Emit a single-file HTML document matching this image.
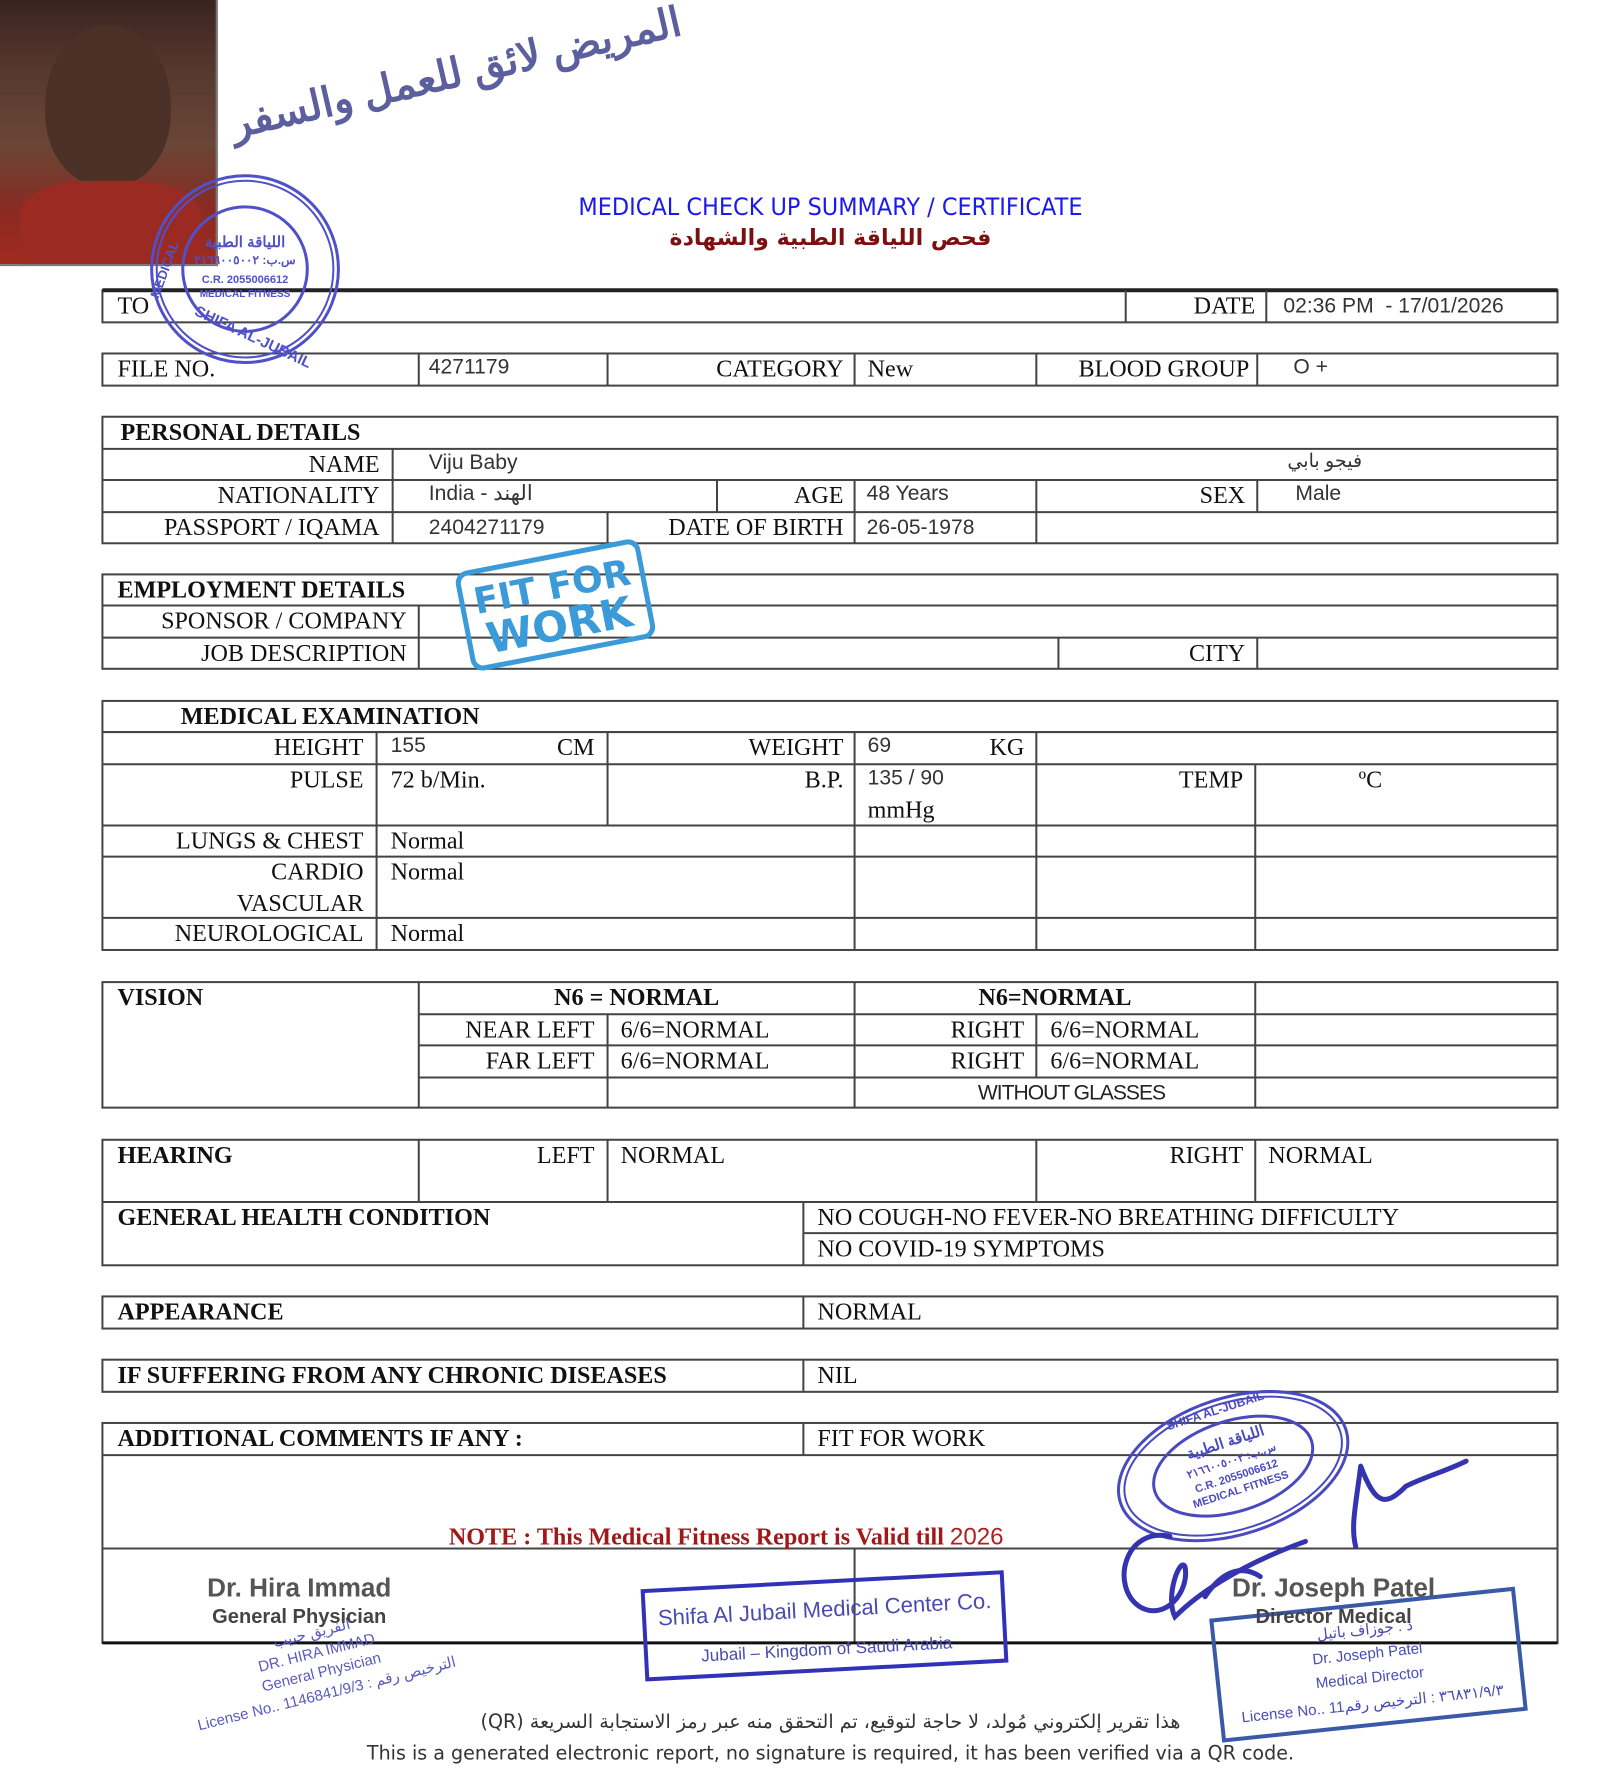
<!DOCTYPE html>
<html><head><meta charset="utf-8">
<style>
html,body{margin:0;padding:0;background:#fff}
#pg{position:relative;width:1621px;height:1772px;overflow:hidden;background:#fff}
#in{position:absolute;left:0;top:0;width:1621px;height:1772px;transform:scale(1.0042);transform-origin:0 0}
.t{position:absolute;font:24px "Liberation Serif",serif;color:#111;white-space:nowrap;line-height:32px;height:32px}
.b{font-weight:bold}
.s{font-family:"Liberation Sans","Noto Sans CJK SC",sans-serif;font-size:21px;color:#333}
.r{text-align:right}
svg{position:absolute;left:0;top:0}
</style></head><body><div id="pg"><div id="in">

<div style="position:absolute;left:0;top:0;width:215px;height:263px;border:2px solid #777;border-top:0;border-left:0;background:linear-gradient(180deg,#3a2420 0%,#5a3a30 30%,#6a4636 55%,#8a2a22 80%,#a02a20 100%)"></div>
<div style="position:absolute;left:45px;top:25px;width:125px;height:160px;border-radius:50% 50% 45% 45%;background:#4a3026"></div>
<div style="position:absolute;left:20px;top:180px;width:180px;height:83px;border-radius:40% 40% 0 0;background:#9a2a22"></div>

<div style="position:absolute;left:230px;top:100px;font:bold 41px 'Liberation Sans','Noto Sans CJK SC',sans-serif;color:#5c5f9e;transform:rotate(-13deg);transform-origin:left center;white-space:nowrap" dir="rtl">المريض لائق للعمل والسفر</div>

<div style="position:absolute;left:0;width:1654px;top:192px;text-align:center;font:24px 'DejaVu Sans',sans-serif;color:#1a1aee;transform:scaleX(0.93);transform-origin:827px 0">MEDICAL CHECK UP SUMMARY / CERTIFICATE</div>
<div style="position:absolute;left:0;width:1654px;top:225px;text-align:center;font:bold 22px 'DejaVu Sans',sans-serif;color:#7a1010" dir="rtl">فحص اللياقة الطبية والشهادة</div>

<svg width="1621" height="1772" viewBox="0 0 1621 1772">
<g stroke="#444" stroke-width="2" fill="none">
<rect x="102" y="289" width="1449" height="32"/>
<line x1="102" y1="289" x2="1551" y2="289" stroke-width="4" stroke="#222"/>
<line x1="1121" y1="289" x2="1121" y2="321"/><line x1="1261" y1="289" x2="1261" y2="321"/>
<rect x="102" y="352" width="1449" height="32"/>
<line x1="417" y1="352" x2="417" y2="384"/><line x1="605" y1="352" x2="605" y2="384"/><line x1="851" y1="352" x2="851" y2="384"/><line x1="1032" y1="352" x2="1032" y2="384"/><line x1="1252" y1="352" x2="1252" y2="384"/>
<rect x="102" y="415" width="1449" height="126"/>
<line x1="102" y1="447" x2="1551" y2="447"/><line x1="102" y1="478" x2="1551" y2="478"/><line x1="102" y1="510" x2="1551" y2="510"/>
<line x1="391" y1="447" x2="391" y2="541"/>
<line x1="714" y1="478" x2="714" y2="510"/><line x1="851" y1="478" x2="851" y2="541"/><line x1="1032" y1="478" x2="1032" y2="541"/><line x1="1252" y1="478" x2="1252" y2="510"/>
<line x1="605" y1="510" x2="605" y2="541"/>
<rect x="102" y="572" width="1449" height="94"/>
<line x1="102" y1="603" x2="1551" y2="603"/><line x1="102" y1="635" x2="1551" y2="635"/>
<line x1="417" y1="603" x2="417" y2="666"/><line x1="1054" y1="635" x2="1054" y2="666"/><line x1="1252" y1="635" x2="1252" y2="666"/>
<rect x="102" y="698" width="1449" height="248"/>
<line x1="102" y1="729" x2="1551" y2="729"/><line x1="102" y1="761" x2="1551" y2="761"/><line x1="102" y1="822" x2="1551" y2="822"/><line x1="102" y1="853" x2="1551" y2="853"/><line x1="102" y1="914" x2="1551" y2="914"/>
<line x1="375" y1="729" x2="375" y2="946"/><line x1="605" y1="729" x2="605" y2="822"/><line x1="851" y1="729" x2="851" y2="946"/><line x1="1032" y1="729" x2="1032" y2="946"/><line x1="1250" y1="761" x2="1250" y2="946"/>
<rect x="102" y="978" width="1449" height="125"/>
<line x1="417" y1="1010" x2="1551" y2="1010"/><line x1="417" y1="1041" x2="1551" y2="1041"/><line x1="417" y1="1073" x2="1551" y2="1073"/>
<line x1="417" y1="978" x2="417" y2="1103"/><line x1="851" y1="978" x2="851" y2="1103"/><line x1="1250" y1="978" x2="1250" y2="1103"/>
<line x1="605" y1="1010" x2="605" y2="1103"/><line x1="1032" y1="1010" x2="1032" y2="1073"/>
<rect x="102" y="1135" width="1449" height="125"/>
<line x1="102" y1="1197" x2="1551" y2="1197"/>
<line x1="417" y1="1135" x2="417" y2="1197"/><line x1="605" y1="1135" x2="605" y2="1197"/><line x1="1032" y1="1135" x2="1032" y2="1197"/><line x1="1250" y1="1135" x2="1250" y2="1197"/>
<line x1="800" y1="1197" x2="800" y2="1260"/><line x1="800" y1="1228" x2="1551" y2="1228"/>
<rect x="102" y="1291" width="1449" height="32"/><line x1="800" y1="1291" x2="800" y2="1323"/>
<rect x="102" y="1354" width="1449" height="32"/><line x1="800" y1="1354" x2="800" y2="1386"/>
<rect x="102" y="1417" width="1449" height="219"/>
<line x1="102" y1="1449" x2="1551" y2="1449"/><line x1="800" y1="1417" x2="800" y2="1449"/>
<line x1="102" y1="1542" x2="1551" y2="1542"/><line x1="851" y1="1542" x2="851" y2="1636"/>
<line x1="102" y1="1636" x2="1551" y2="1636" stroke-width="3" stroke="#111"/>
</g>

<g fill="none" stroke="#5050c8">
<circle cx="244" cy="268" r="93" stroke-width="3"/><circle cx="244" cy="268" r="88" stroke-width="2"/><circle cx="244" cy="268" r="62" stroke-width="3"/>
</g>
<g font-family="Liberation Sans,sans-serif" fill="#5050c8" font-weight="bold" text-anchor="middle">
<text x="244" y="246" font-size="15">اللياقة الطبية</text>
<text x="244" y="263" font-size="12">س.ب: ٢١٦٦٠٠٥٠٠٢</text>
<text x="244" y="282" font-size="11">C.R. 2055006612</text>
<text x="244" y="296" font-size="10">MEDICAL FITNESS</text>
<text x="250" y="340" font-size="15" transform="rotate(25 250 340)">SHIFA AL-JUBAIL</text>
<text x="168" y="270" font-size="13" transform="rotate(-70 168 270)">MEDICAL</text>
</g>

<g transform="rotate(-11 550 602)" fill="#3b9ad8">
<rect x="462" y="555" width="182" height="96" rx="10" fill="none" stroke="#3b9ad8" stroke-width="5"/>
<text x="553" y="597" font-family="DejaVu Sans,sans-serif" font-weight="bold" font-size="36" text-anchor="middle">FIT FOR</text>
<text x="553" y="638" font-family="DejaVu Sans,sans-serif" font-weight="bold" font-size="42" text-anchor="middle">WORK</text>
</g>

<g transform="rotate(-18 1228 1460)" fill="none" stroke="#4a4ac0">
<ellipse cx="1228" cy="1460" rx="118" ry="68" stroke-width="3"/><ellipse cx="1228" cy="1460" rx="112" ry="63" stroke-width="2"/><ellipse cx="1228" cy="1460" rx="82" ry="45" stroke-width="3"/>
</g>
<g transform="rotate(-18 1228 1460)" font-family="Liberation Sans,sans-serif" fill="#4a4ac0" font-weight="bold" text-anchor="middle">
<text x="1228" y="1440" font-size="15">اللياقة الطبية</text>
<text x="1228" y="1458" font-size="11">س.ب: ٢١٦٦٠٠٥٠٠٢</text>
<text x="1228" y="1474" font-size="11">C.R. 2055006612</text>
<text x="1228" y="1488" font-size="11">MEDICAL FITNESS</text>
<text x="1228" y="1406" font-size="12">SHIFA AL-JUBAIL</text>
</g>

<g fill="none" stroke="#3434b0" stroke-width="5" stroke-linecap="round">
<path d="M1165 1530 C1120 1520 1105 1580 1135 1600 C1160 1615 1185 1585 1180 1560 C1175 1550 1160 1590 1170 1610 C1190 1590 1230 1560 1300 1535"/>
<path d="M1200 1590 C1220 1560 1240 1560 1255 1570"/>
<path d="M1355 1460 C1350 1500 1345 1520 1350 1540 M1355 1460 C1370 1500 1380 1500 1400 1480 C1420 1470 1440 1465 1460 1455"/>
</g>

<g transform="rotate(-3 822 1618)">
<rect x="642" y="1575" width="358" height="88" fill="none" stroke="#3232b8" stroke-width="4"/>
<text x="822" y="1610" font-family="Liberation Sans,sans-serif" font-size="22" fill="#4a4ab0" text-anchor="middle">Shifa Al Jubail Medical Center Co.</text>
<text x="822" y="1648" font-family="Liberation Sans,sans-serif" font-size="17" fill="#4a4ab0" text-anchor="middle">Jubail – Kingdom of Saudi Arabia</text>
</g>

<g transform="rotate(-6 1360 1660)">
<rect x="1212" y="1598" width="302" height="120" fill="none" stroke="#3a5aa8" stroke-width="4"/>
<g font-family="Liberation Sans,sans-serif" fill="#4a4ab8" text-anchor="middle" font-size="15">
<text x="1363" y="1628">د . جوزاف باتيل</text>
<text x="1363" y="1652">Dr. Joseph Patel</text>
<text x="1363" y="1676">Medical Director</text>
<text x="1363" y="1702">License No.. 11٣٦٨٣١/٩/٣ : الترخيص رقم</text>
</g>
</g>

<g transform="rotate(-14 320 1665)" font-family="Liberation Sans,sans-serif" fill="#5a5ac0" text-anchor="middle" font-size="15">
<text x="320" y="1630">الفريق حبيب</text>
<text x="320" y="1650">DR. HIRA IMMAD</text>
<text x="320" y="1670">General Physician</text>
<text x="320" y="1692">License No.. 1146841/9/3 : الترخيص رقم</text>
</g>
</svg>

<div class="t" style="left:117px;top:289px">TO</div>
<div class="t r" style="right:371px;top:289px">DATE</div>
<div class="t s" style="left:1278px;top:289px">02:36 PM&nbsp; - 17/01/2026</div>
<div class="t" style="left:117px;top:352px">FILE NO.</div>
<div class="t s" style="left:427px;top:350px">4271179</div>
<div class="t r" style="right:781px;top:352px">CATEGORY</div>
<div class="t" style="left:864px;top:352px">New</div>
<div class="t r" style="right:377px;top:352px">BLOOD GROUP</div>
<div class="t s" style="left:1288px;top:350px">O +</div>
<div class="t b" style="left:120px;top:415px">PERSONAL DETAILS</div>
<div class="t r" style="right:1243px;top:447px">NAME</div>
<div class="t s" style="left:427px;top:445px">Viju Baby</div>
<div class="t s" style="left:1282px;top:444px;font-size:19px" dir="rtl">فيجو بابي</div>
<div class="t r" style="right:1243px;top:478px">NATIONALITY</div>
<div class="t s" style="left:427px;top:476px">India - الهند</div>
<div class="t r" style="right:781px;top:478px">AGE</div>
<div class="t s" style="left:863px;top:476px">48 Years</div>
<div class="t r" style="right:381px;top:478px">SEX</div>
<div class="t s" style="left:1290px;top:476px">Male</div>
<div class="t r" style="right:1243px;top:510px">PASSPORT / IQAMA</div>
<div class="t s" style="left:427px;top:510px">2404271179</div>
<div class="t r" style="right:781px;top:510px">DATE OF BIRTH</div>
<div class="t s" style="left:863px;top:510px">26-05-1978</div>
<div class="t b" style="left:117px;top:572px">EMPLOYMENT DETAILS</div>
<div class="t r" style="right:1216px;top:603px">SPONSOR / COMPANY</div>
<div class="t r" style="right:1216px;top:635px">JOB DESCRIPTION</div>
<div class="t r" style="right:381px;top:635px">CITY</div>
<div class="t b" style="left:180px;top:698px">MEDICAL EXAMINATION</div>
<div class="t r" style="right:1259px;top:729px">HEIGHT</div>
<div class="t s" style="left:389px;top:727px">155</div>
<div class="t r" style="right:1029px;top:729px">CM</div>
<div class="t r" style="right:781px;top:729px">WEIGHT</div>
<div class="t s" style="left:864px;top:727px">69</div>
<div class="t r" style="right:601px;top:729px">KG</div>
<div class="t r" style="right:1259px;top:761px">PULSE</div>
<div class="t" style="left:389px;top:761px">72 b/Min.</div>
<div class="t r" style="right:781px;top:761px">B.P.</div>
<div class="t s" style="left:864px;top:759px">135 / 90</div>
<div class="t" style="left:864px;top:791px">mmHg</div>
<div class="t r" style="right:383px;top:761px">TEMP</div>
<div class="t" style="left:1353px;top:761px">ºC</div>
<div class="t r" style="right:1259px;top:822px">LUNGS &amp; CHEST</div>
<div class="t" style="left:389px;top:822px">Normal</div>
<div class="t r" style="right:1259px;top:853px">CARDIO</div>
<div class="t r" style="right:1259px;top:884px">VASCULAR</div>
<div class="t" style="left:389px;top:853px">Normal</div>
<div class="t r" style="right:1259px;top:914px">NEUROLOGICAL</div>
<div class="t" style="left:389px;top:914px">Normal</div>
<div class="t b" style="left:117px;top:978px">VISION</div>
<div class="t b" style="left:417px;width:434px;text-align:center;top:978px">N6 = NORMAL</div>
<div class="t b" style="left:851px;width:399px;text-align:center;top:978px">N6=NORMAL</div>
<div class="t r" style="right:1029px;top:1010px">NEAR LEFT</div>
<div class="t" style="left:618px;top:1010px">6/6=NORMAL</div>
<div class="t r" style="right:601px;top:1010px">RIGHT</div>
<div class="t" style="left:1046px;top:1010px">6/6=NORMAL</div>
<div class="t r" style="right:1029px;top:1041px">FAR LEFT</div>
<div class="t" style="left:618px;top:1041px">6/6=NORMAL</div>
<div class="t r" style="right:601px;top:1041px">RIGHT</div>
<div class="t" style="left:1046px;top:1041px">6/6=NORMAL</div>
<div class="t s" style="left:851px;width:432px;text-align:center;top:1073px;color:#222;letter-spacing:-1px">WITHOUT GLASSES</div>
<div class="t b" style="left:117px;top:1135px">HEARING</div>
<div class="t r" style="right:1029px;top:1135px">LEFT</div>
<div class="t" style="left:618px;top:1135px">NORMAL</div>
<div class="t r" style="right:383px;top:1135px">RIGHT</div>
<div class="t" style="left:1263px;top:1135px">NORMAL</div>
<div class="t b" style="left:117px;top:1197px">GENERAL HEALTH CONDITION</div>
<div class="t" style="left:814px;top:1197px">NO COUGH-NO FEVER-NO BREATHING DIFFICULTY</div>
<div class="t" style="left:814px;top:1228px">NO COVID-19 SYMPTOMS</div>
<div class="t b" style="left:117px;top:1291px">APPEARANCE</div>
<div class="t" style="left:814px;top:1291px">NORMAL</div>
<div class="t b" style="left:117px;top:1354px">IF SUFFERING FROM ANY CHRONIC DISEASES</div>
<div class="t" style="left:814px;top:1354px">NIL</div>
<div class="t b" style="left:117px;top:1417px">ADDITIONAL COMMENTS IF ANY :</div>
<div class="t" style="left:814px;top:1417px">FIT FOR WORK</div>
<div class="t b" style="left:447px;top:1515px;color:#a01818">NOTE : This Medical Fitness Report is Valid till <span style="font:24px 'Liberation Sans',sans-serif;color:#b02020;font-weight:normal">2026</span></div>

<div style="position:absolute;left:148px;width:300px;text-align:center;top:1566px;font:bold 26px 'Liberation Sans',sans-serif;color:#555">Dr. Hira Immad</div>
<div style="position:absolute;left:148px;width:300px;text-align:center;top:1599px;font:bold 20px 'Liberation Sans',sans-serif;color:#444">General Physician</div>
<div style="position:absolute;left:1178px;width:300px;text-align:center;top:1566px;font:bold 26px 'Liberation Sans',sans-serif;color:#555">Dr. Joseph Patel</div>
<div style="position:absolute;left:1178px;width:300px;text-align:center;top:1599px;font:bold 20px 'Liberation Sans',sans-serif;color:#444">Director Medical</div>

<div style="position:absolute;left:0;width:1654px;text-align:center;top:1704px;font:19px 'DejaVu Sans',sans-serif;color:#333" dir="rtl">هذا تقرير إلكتروني مُولد، لا حاجة لتوقيع، تم التحقق منه عبر رمز الاستجابة السريعة (QR)</div>
<div style="position:absolute;left:0;width:1654px;text-align:center;top:1735px;font:19px 'DejaVu Sans',sans-serif;color:#333">This is a generated electronic report, no signature is required, it has been verified via a QR code.</div>

</div></div></body></html>
